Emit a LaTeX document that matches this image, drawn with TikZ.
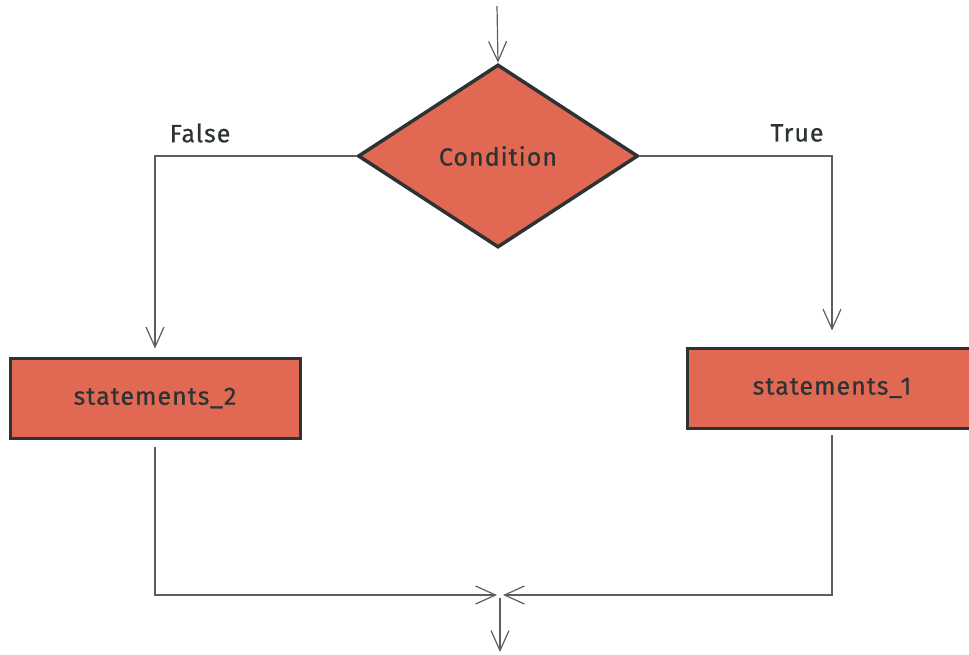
\documentclass[tikz,border=0pt]{standalone}
\usepackage{fontspec}
\setmainfont{Fira Sans}[LetterSpace=4,FakeBold=0.6]
\usetikzlibrary{shapes.geometric,arrows.meta}
\definecolor{boxfill}{HTML}{E16954}
\definecolor{boxline}{HTML}{2D3333}
\definecolor{flowline}{HTML}{5A5F66}

\begin{document}
\begin{tikzpicture}[x=1pt,y=-1pt,
  every node/.style={font=\fontsize{25}{30}\selectfont, text=boxline},
  decision/.style={diamond, draw=boxline, fill=boxfill, line width=3.5pt,
    minimum width=280pt, minimum height=183pt, inner sep=0pt, aspect=1.53},
  stmt/.style={rectangle, draw=boxline, fill=boxfill, line width=3pt,
    minimum width=290pt, minimum height=80pt},
  flow/.style={draw=flowline, line width=1.2pt,
    -{Straight Barb[length=20pt,width=18pt,line width=1.2pt]}}]
\useasboundingbox (0,0) rectangle (969,654);

% decision
\node[decision] (cond) at (498,156) {Condition};
\coordinate (start) at (497,6);
\draw[flow] (start) -- (cond.north);

% branch labels
\node (false) at (200,133) {False};
\node (true) at (797,133) {True};

% statements
\node[stmt] (st2) at (155,398) {\raisebox{-6pt}{statements\_2}};
\node[stmt] (st1) at (832,388) {\raisebox{-5pt}{statements\_1}};

% branches
\draw[flow, shorten >=8pt] (cond.west) -| (st2.north);
\draw[flow, shorten >=16pt] (cond.east) -| (st1.north);

% merge
\coordinate (merge) at (500,595);
\coordinate (end) at (500,652);
\draw[flow, shorten <=7pt, shorten >=3pt] (st2.south) |- (merge);
\draw[flow, shorten <=5pt, shorten >=3pt] (st1.south) |- (merge);
\draw[flow, shorten <=3pt] (merge) -- (end);
\end{tikzpicture}
\end{document}
